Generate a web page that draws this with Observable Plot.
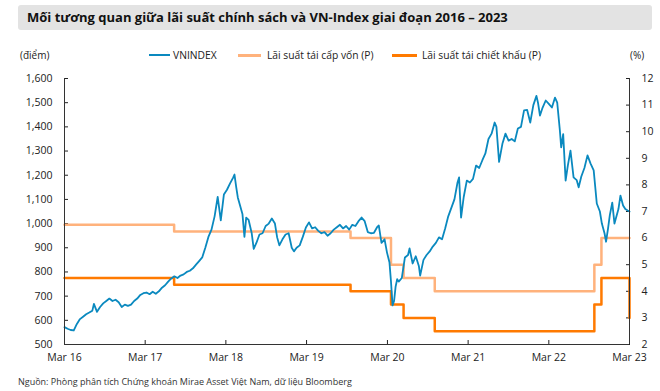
<!DOCTYPE html>
<html><head><meta charset="utf-8">
<script src="https://cdn.jsdelivr.net/npm/d3@7"></script>
<script src="https://cdn.jsdelivr.net/npm/@observablehq/plot@0.6"></script>
<style>
body{margin:0;width:660px;height:391px;position:relative;font-family:"Open Sans",sans-serif;color:#222;background:#fff;overflow:hidden}
#title{position:absolute;left:18px;top:5px;width:634px;height:25px;background:#e3e3e3;border-radius:3px;font-weight:700;font-size:13px;line-height:25px;padding-left:9px;box-sizing:border-box;color:#111}
.u{position:absolute;top:48px;font-size:10px;line-height:14px}
.leg{position:absolute;top:48px;font-size:10.3px;line-height:14px;white-space:nowrap}
.sw{position:absolute;top:55px;height:0}
#chart{position:absolute;left:0;top:60px}
#cap{position:absolute;left:18px;top:375px;font-size:9px;line-height:13px;color:#333}
</style></head>
<body>
<div id="title">Mối tương quan giữa lãi suất chính sách và VN-Index giai đoạn 2016 – 2023</div>
<div class="u" style="left:20px">(điểm)</div>
<div class="u" style="left:630px">(%)</div>
<div class="sw" style="left:149px;width:21px;border-top:2px solid #0a89bf;top:54px"></div>
<div class="leg" style="left:173px">VNINDEX</div>
<div class="sw" style="left:238px;width:23px;border-top:3px solid #ffb27c;top:54px"></div>
<div class="leg" style="left:267px">Lãi suất tái cấp vốn (P)</div>
<div class="sw" style="left:392px;width:25px;border-top:3px solid #ff7a00;top:54px"></div>
<div class="leg" style="left:422px">Lãi suất tái chiết khấu (P)</div>
<div id="chart"></div>
<div id="cap">Nguồn: Phòng phân tích Chứng khoán Mirae Asset Việt Nam, dữ liệu Bloomberg</div>
<script>
const vnDates = [
"2016-03-01","2016-03-15","2016-03-29","2016-04-12","2016-04-26","2016-05-10","2016-05-24","2016-06-07","2016-06-21","2016-07-05","2016-07-12","2016-07-26","2016-08-09","2016-08-23","2016-09-06","2016-09-20","2016-10-04","2016-10-18","2016-11-01","2016-11-15","2016-11-29","2016-12-13","2016-12-27",
"2017-01-10","2017-01-24","2017-02-07","2017-02-21","2017-03-07","2017-03-21","2017-04-04","2017-04-18","2017-05-02","2017-05-16","2017-05-30","2017-06-13","2017-06-27","2017-07-11","2017-07-25","2017-08-08","2017-08-22","2017-09-05","2017-09-19","2017-10-03","2017-10-17","2017-10-31","2017-11-14","2017-11-28","2017-12-12","2017-12-26",
"2018-01-09","2018-01-23","2018-02-06","2018-02-20","2018-03-06","2018-03-20","2018-04-03","2018-04-09","2018-04-17","2018-04-24","2018-05-08","2018-05-15","2018-05-24","2018-06-01","2018-06-12","2018-06-26","2018-07-05","2018-07-17","2018-07-31","2018-08-14","2018-08-28","2018-09-11","2018-09-25","2018-10-09","2018-10-19","2018-10-29","2018-11-12","2018-11-26","2018-12-10","2018-12-24",
"2019-01-03","2019-01-15","2019-01-29","2019-02-12","2019-02-26","2019-03-12","2019-03-26","2019-04-09","2019-04-23","2019-05-07","2019-05-21","2019-06-04","2019-06-18","2019-07-02","2019-07-16","2019-07-30","2019-08-13","2019-08-27","2019-09-10","2019-09-24","2019-10-08","2019-10-22","2019-11-05","2019-11-19","2019-12-03","2019-12-17","2019-12-31",
"2020-01-14","2020-01-22","2020-02-03","2020-02-17","2020-02-28","2020-03-10","2020-03-17","2020-03-24","2020-03-31","2020-04-07","2020-04-14","2020-04-21","2020-05-05","2020-05-19","2020-06-02","2020-06-09","2020-06-23","2020-07-07","2020-07-21","2020-07-27","2020-08-11","2020-08-25","2020-09-08","2020-09-22","2020-10-06","2020-10-20","2020-11-03","2020-11-17","2020-12-01","2020-12-15","2020-12-29",
"2021-01-12","2021-01-19","2021-01-28","2021-02-09","2021-02-23","2021-03-09","2021-03-23","2021-04-06","2021-04-20","2021-05-04","2021-05-18","2021-06-01","2021-06-15","2021-06-29","2021-07-07","2021-07-19","2021-08-03","2021-08-17","2021-08-31","2021-09-14","2021-09-28","2021-10-12","2021-10-26","2021-11-09","2021-11-23","2021-12-07","2021-12-21",
"2022-01-04","2022-01-11","2022-01-20","2022-02-01","2022-02-15","2022-03-01","2022-03-15","2022-03-29","2022-04-08","2022-04-20","2022-04-26","2022-05-05","2022-05-16","2022-05-26","2022-06-07","2022-06-21","2022-07-05","2022-07-14","2022-07-26","2022-08-09","2022-08-23","2022-09-06","2022-09-20","2022-10-04","2022-10-18","2022-10-27","2022-11-08","2022-11-15","2022-11-24","2022-12-02","2022-12-13","2022-12-23",
"2023-01-10","2023-01-19","2023-01-31","2023-02-10","2023-02-21","2023-03-01"
];
const vnValues = [
572,565,560,558,585,605,615,625,632,640,668,635,655,670,680,690,680,685,675,655,665,660,665,
680,690,705,712,715,708,718,710,720,735,745,760,773,782,775,785,790,800,805,815,830,845,860,900,945,975,
1030,1110,1013,1120,1140,1166,1190,1203,1150,1108,1062,1040,945,1025,1015,960,895,920,955,960,990,1000,1021,1000,943,910,935,955,960,900,
885,900,910,945,984,1005,980,985,970,960,965,950,960,975,985,995,980,990,975,995,990,1010,1025,1010,965,960,962,
985,992,920,935,880,840,760,662,680,740,770,760,775,860,870,897,835,865,825,785,850,870,885,905,920,943,935,980,1030,1065,1100,
1170,1191,1025,1110,1178,1170,1185,1240,1230,1261,1290,1350,1372,1418,1400,1255,1330,1372,1343,1350,1340,1393,1400,1468,1470,1418,1490,
1528,1500,1447,1480,1509,1495,1480,1521,1500,1385,1315,1370,1178,1240,1302,1191,1180,1150,1195,1230,1282,1248,1220,1083,1050,1000,960,925,980,1035,1087,1000,
1060,1116,1075,1060,1054,1050
];
const rateDates = ["2016-03-01","2017-07-10","2019-09-16","2020-03-17","2020-05-13","2020-10-01","2022-09-23","2022-10-25","2023-03-01"];
const refiRates = [6.5,6.25,6.0,5.0,4.5,4.0,5.0,6.0,6.0];
const discRates = [4.5,4.25,4.0,3.5,3.0,2.5,3.5,4.5,3.0];
const xTickDates = ["2016-03-01","2017-03-01","2018-03-01","2019-03-01","2020-03-01","2021-03-01","2022-03-01","2023-03-01"];
const leftTicks = [500,600,700,800,900,1000,1100,1200,1300,1400,1500,1600];
const rightTicks = [2,3,4,5,6,7,8,9,10,11,12];

const parse = d3.utcParse("%Y-%m-%d");
const toLeft = r => 500 + (r - 2) * 110;
const vn = vnDates.map((d, i) => ({date: parse(d), value: vnValues[i]}));
const refi = rateDates.map((d, i) => ({date: parse(d), value: toLeft(refiRates[i])}));
const disc = rateDates.map((d, i) => ({date: parse(d), value: toLeft(discRates[i])}));
const x0 = parse(xTickDates[0]), x1 = parse(xTickDates[xTickDates.length - 1]);

const chart = Plot.plot({
  width: 660, height: 305,
  marginTop: 18, marginBottom: 21, marginLeft: 64, marginRight: 31,
  x: {type: "utc", domain: [x0, x1]},
  y: {domain: [500, 1600]},
  style: {fontFamily: "Open Sans", fontSize: "10.5px", color: "#222", background: "transparent"},
  marks: [
    Plot.axisX({ticks: xTickDates.map(parse), tickFormat: d3.utcFormat("%b %y"), tickSize: -4, tickPadding: 13, label: null}),
    Plot.axisY({ticks: leftTicks, tickFormat: d3.format(","), tickSize: -4, tickPadding: 16, label: null}),
    Plot.axisY({anchor: "right", ticks: rightTicks.map(toLeft), tickFormat: v => String(Math.round((v - 500) / 110 + 2)), tickSize: -4, tickPadding: 16, label: null}),
    Plot.line(refi, {x: "date", y: "value", curve: "step-after", stroke: "#ffb27c", strokeWidth: 2.5}),
    Plot.line(disc, {x: "date", y: "value", curve: "step-after", stroke: "#ff7a00", strokeWidth: 2.5}),
    Plot.line(vn, {x: "date", y: "value", stroke: "#0a89bf", strokeWidth: 1.8}),
    Plot.ruleX([x0, x1], {stroke: "#333"}),
    Plot.ruleY([500], {stroke: "#333"})
  ]
});
document.getElementById("chart").append(chart);
</script>
</body></html>
